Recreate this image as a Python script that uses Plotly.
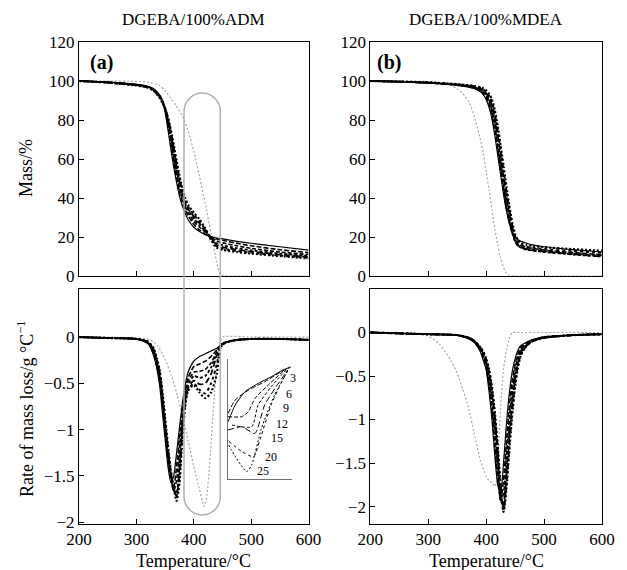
import plotly.graph_objects as go

SERIES = ["3", "6", "9", "12", "15", "20", "25"]
TICKS_X = [200, 300, 400, 500, 600]
TICKS_MASS = [0, 20, 40, 60, 80, 100, 120]
TICKS_RATE = [-2, -1.5, -1, -0.5, 0]

# ---------------- (a) DGEBA/100%ADM : mass ----------------
T_A_MASS = [200, 250, 300, 320, 330, 340, 345, 350, 355, 360, 365, 370, 375, 380, 385, 390, 400, 410, 420, 430, 440, 450, 475, 500, 550, 600]
A_MASS_3 = [100, 99.4, 98.3, 97.3, 96, 93, 90, 84, 75, 65, 56, 48, 41, 36, 32, 29, 25, 22.8, 21.2, 20.2, 19.5, 19, 17.8, 16.8, 15, 13.3]
A_MASS_6 = [100, 99.4, 98.2, 97.2, 95.8, 92.8, 90.2, 85.5, 77.5, 68, 58.5, 50, 43, 38, 34, 31, 26.5, 23.5, 21.5, 20, 19, 18.3, 16.8, 15.5, 13.5, 12]
A_MASS_9 = [100, 99.3, 98.1, 97, 95.6, 92.5, 90, 86, 79, 70, 61, 52.5, 45, 39.5, 35.5, 32.5, 28, 25, 22.5, 20, 18, 17, 15.5, 14.2, 12.3, 11]
A_MASS_12 = [100, 99.3, 98, 97, 95.5, 92.3, 89.8, 86, 80, 72, 63, 54.5, 47, 41, 37, 34, 29.5, 26, 23, 19.5, 16.8, 15.8, 14.3, 13.2, 11.5, 10.3]
A_MASS_15 = [100, 99.2, 97.9, 96.8, 95.3, 92, 89.5, 86, 80.5, 73, 64.5, 56, 48.5, 42, 37.5, 34.5, 30.5, 27, 23.5, 19.5, 16, 14.8, 13.5, 12.5, 11, 9.8]
A_MASS_20 = [100, 99.2, 97.8, 96.7, 95.2, 91.8, 89.3, 86, 81, 74, 66, 57.5, 50, 43.5, 38.5, 35.5, 31.5, 28, 24, 19, 15.2, 14, 12.8, 12, 10.5, 9.3]
A_MASS_25 = [100, 99.2, 97.7, 96.6, 95, 91.5, 89, 85.8, 81.2, 75, 67.5, 59, 51.5, 45, 40, 36.5, 32.5, 29, 24.5, 18.5, 14.5, 13.4, 12.3, 11.5, 10.2, 9]
T_A_REF_MASS = [200, 250, 300, 320, 340, 350, 360, 370, 380, 390, 400, 410, 420, 430, 440, 445, 450, 500, 550, 600]
A_REF_MASS = [100, 100, 99.8, 99.4, 97.8, 95, 91, 87, 82, 74.5, 64, 51, 37, 22, 7, 1.5, 0.3, 0, 0, 0]

# ---------------- (a) rate of mass loss ----------------
T_A_RATE = [200, 250, 300, 320, 330, 340, 345, 350, 355, 360, 365, 370, 375, 380, 385, 390, 400, 410, 420, 430, 440, 445, 450, 460, 475, 500, 550, 600]
A_RATE_3 = [0, -0.01, -0.02, -0.07, -0.2, -0.5, -0.8, -1.1, -1.4, -1.57, -1.5, -1.25, -0.98, -0.72, -0.52, -0.38, -0.26, -0.21, -0.18, -0.15, -0.12, -0.1, -0.08, -0.05, -0.03, -0.02, -0.02, -0.03]
A_RATE_6 = [0, -0.01, -0.02, -0.06, -0.18, -0.45, -0.72, -1.02, -1.32, -1.55, -1.62, -1.4, -1.08, -0.8, -0.58, -0.44, -0.32, -0.29, -0.26, -0.21, -0.14, -0.1, -0.07, -0.05, -0.03, -0.02, -0.02, -0.03]
A_RATE_9 = [0, -0.01, -0.02, -0.06, -0.16, -0.42, -0.68, -0.98, -1.28, -1.52, -1.66, -1.55, -1.2, -0.88, -0.62, -0.48, -0.38, -0.37, -0.35, -0.28, -0.16, -0.1, -0.07, -0.05, -0.03, -0.02, -0.02, -0.03]
A_RATE_12 = [0, -0.01, -0.02, -0.06, -0.15, -0.4, -0.65, -0.95, -1.25, -1.5, -1.66, -1.68, -1.32, -0.94, -0.66, -0.52, -0.42, -0.44, -0.42, -0.33, -0.17, -0.1, -0.07, -0.05, -0.03, -0.02, -0.02, -0.03]
A_RATE_15 = [0, -0.01, -0.02, -0.05, -0.14, -0.38, -0.62, -0.92, -1.22, -1.48, -1.66, -1.72, -1.42, -1.0, -0.7, -0.55, -0.47, -0.51, -0.5, -0.4, -0.2, -0.11, -0.07, -0.05, -0.03, -0.02, -0.02, -0.03]
A_RATE_20 = [0, -0.01, -0.02, -0.05, -0.13, -0.36, -0.6, -0.9, -1.2, -1.46, -1.64, -1.7, -1.5, -1.05, -0.72, -0.57, -0.5, -0.57, -0.61, -0.5, -0.3, -0.14, -0.08, -0.05, -0.03, -0.02, -0.02, -0.03]
A_RATE_25 = [0, -0.01, -0.02, -0.05, -0.12, -0.34, -0.57, -0.87, -1.17, -1.44, -1.63, -1.77, -1.58, -1.1, -0.75, -0.58, -0.52, -0.6, -0.66, -0.6, -0.4, -0.15, -0.08, -0.05, -0.03, -0.02, -0.02, -0.03]
T_A_REF_RATE = [200, 250, 300, 320, 330, 340, 350, 360, 370, 380, 390, 400, 410, 415, 418, 422, 426, 430, 435, 440, 445, 450, 500, 550, 600]
A_REF_RATE = [0, 0, -0.01, -0.02, -0.05, -0.12, -0.24, -0.4, -0.6, -0.85, -1.12, -1.4, -1.65, -1.77, -1.83, -1.75, -1.5, -1.15, -0.7, -0.3, -0.08, 0, 0, 0, 0]

# ---------------- (b) DGEBA/100%MDEA : mass ----------------
T_B_MASS = [200, 250, 300, 350, 370, 380, 390, 395, 400, 405, 410, 415, 420, 425, 430, 435, 440, 445, 450, 455, 460, 470, 480, 500, 550, 600]
B_MASS_3 = [100, 99.6, 99, 97.8, 96.8, 96, 94.5, 93, 90.5, 86.5, 80.5, 72, 62, 52, 42, 33.5, 27, 22.5, 19.8, 18.6, 17.8, 16.8, 16, 15, 13.5, 12.3]
B_MASS_6 = [100, 99.6, 99, 97.9, 97, 96.3, 95, 93.8, 91.5, 88, 82.5, 74.5, 64.5, 54, 44, 35, 27.5, 22, 18.5, 16.8, 15.8, 14.8, 14.2, 13.3, 12, 11]
B_MASS_9 = [100, 99.6, 99.1, 98, 97.2, 96.6, 95.5, 94.4, 92.5, 89.5, 84.5, 77, 67, 56.5, 46, 36.5, 28.5, 22, 17.5, 15.5, 14.8, 14, 13.5, 12.8, 11.5, 10.5]
B_MASS_12 = [100, 99.6, 99.1, 98.1, 97.3, 96.8, 95.8, 94.8, 93.2, 90.5, 86, 79, 69.5, 59, 48.5, 38.5, 30, 23, 18, 15.5, 14.5, 13.5, 13, 12.3, 11, 10]
B_MASS_15 = [100, 99.7, 99.2, 98.2, 97.5, 97, 96.2, 95.3, 93.8, 91.5, 87.5, 81, 72, 61.5, 51, 41, 32, 24.5, 19, 16, 14.8, 13.8, 13.2, 12.5, 11.2, 10]
B_MASS_20 = [100, 99.7, 99.2, 98.3, 97.6, 97.2, 96.5, 95.7, 94.5, 92.5, 89, 83, 74.5, 64.5, 54, 43.5, 34, 26, 20.5, 17.5, 16, 15, 14.5, 13.8, 12.8, 12]
B_MASS_25 = [100, 99.7, 99.3, 98.4, 97.8, 97.4, 96.8, 96.2, 95.2, 93.5, 90.5, 85, 77, 67, 56.5, 46, 36, 27.5, 21.5, 18.5, 17, 16, 15.5, 14.8, 13.8, 13]
T_B_REF_MASS = [200, 250, 300, 320, 340, 350, 360, 370, 380, 390, 395, 400, 405, 410, 415, 420, 425, 430, 435, 440, 450, 500, 550, 600]
B_REF_MASS = [100, 100, 99.7, 99.2, 97.8, 96, 93.5, 89.5, 81.5, 70, 63, 53.5, 44, 34, 24, 16, 9, 4.5, 1.5, 0.3, 0, 0, 0, 0]

# ---------------- (b) rate of mass loss ----------------
T_B_RATE = [200, 250, 300, 350, 370, 380, 390, 395, 400, 405, 410, 415, 420, 425, 430, 435, 440, 445, 450, 455, 460, 470, 480, 500, 550, 600]
B_RATE_3 = [0, -0.01, -0.02, -0.03, -0.07, -0.12, -0.22, -0.32, -0.43, -0.68, -1.0, -1.42, -1.75, -1.84, -1.5, -1.05, -0.7, -0.45, -0.3, -0.2, -0.15, -0.11, -0.08, -0.05, -0.03, -0.02]
B_RATE_6 = [0, -0.01, -0.02, -0.03, -0.07, -0.11, -0.2, -0.29, -0.4, -0.6, -0.9, -1.3, -1.68, -1.92, -1.7, -1.25, -0.85, -0.55, -0.36, -0.24, -0.17, -0.12, -0.09, -0.05, -0.03, -0.02]
B_RATE_9 = [0, -0.01, -0.02, -0.03, -0.07, -0.11, -0.19, -0.27, -0.37, -0.55, -0.82, -1.18, -1.58, -1.95, -1.85, -1.4, -0.98, -0.65, -0.42, -0.28, -0.19, -0.13, -0.09, -0.06, -0.03, -0.02]
B_RATE_12 = [0, -0.01, -0.02, -0.03, -0.06, -0.1, -0.18, -0.25, -0.35, -0.5, -0.75, -1.08, -1.48, -1.9, -1.98, -1.55, -1.1, -0.75, -0.48, -0.31, -0.21, -0.14, -0.1, -0.06, -0.03, -0.02]
B_RATE_15 = [0, -0.01, -0.02, -0.03, -0.06, -0.1, -0.18, -0.24, -0.33, -0.47, -0.7, -1.0, -1.4, -1.85, -2.02, -1.65, -1.2, -0.82, -0.53, -0.34, -0.23, -0.15, -0.1, -0.06, -0.03, -0.02]
B_RATE_20 = [0, -0.01, -0.02, -0.03, -0.06, -0.1, -0.17, -0.23, -0.31, -0.44, -0.65, -0.95, -1.35, -1.8, -2.05, -1.75, -1.3, -0.9, -0.58, -0.37, -0.25, -0.15, -0.1, -0.06, -0.03, -0.02]
B_RATE_25 = [0, -0.01, -0.02, -0.03, -0.06, -0.1, -0.17, -0.22, -0.3, -0.42, -0.62, -0.92, -1.3, -1.75, -2.06, -1.8, -1.35, -0.95, -0.62, -0.4, -0.26, -0.15, -0.1, -0.06, -0.03, -0.02]
T_B_REF_RATE = [200, 250, 280, 300, 320, 340, 350, 360, 370, 380, 390, 400, 405, 410, 415, 418, 420, 425, 430, 435, 440, 445, 450, 500, 550, 600]
B_REF_RATE = [0, 0, -0.01, -0.04, -0.14, -0.33, -0.47, -0.66, -0.88, -1.17, -1.47, -1.65, -1.7, -1.73, -1.77, -1.7, -1.5, -0.85, -0.42, -0.2, -0.07, 0, 0, 0, 0, 0]

# ---------------- inset of (a): shoulder region ----------------
INSET_X_3 = [390, 396.7, 406, 418.3, 430.6, 441.4, 449.1]
INSET_Y_3 = [-0.466, -0.368, -0.29, -0.242, -0.203, -0.164, -0.145]
INSET_X_6 = [390, 396.7, 409.1, 424.4, 439.8, 447.5]
INSET_Y_6 = [-0.417, -0.339, -0.281, -0.232, -0.174, -0.15]
INSET_X_9 = [390, 402.9, 409.1, 415.2, 427.6, 442.9]
INSET_Y_9 = [-0.436, -0.436, -0.407, -0.33, -0.252, -0.164]
INSET_X_12 = [393.7, 412.2, 418.3, 430.6, 446]
INSET_Y_12 = [-0.485, -0.495, -0.368, -0.261, -0.154]
INSET_X_15 = [390, 402.9, 415.2, 424.4, 435.2, 446]
INSET_Y_15 = [-0.514, -0.495, -0.534, -0.368, -0.261, -0.164]
INSET_X_20 = [390.6, 402.9, 414, 420, 431, 446]
INSET_Y_20 = [-0.58, -0.64, -0.67, -0.57, -0.36, -0.164]
INSET_X_25 = [390.6, 399.9, 407.5, 412.2, 421.4, 433.7, 447.5]
INSET_Y_25 = [-0.602, -0.699, -0.757, -0.718, -0.504, -0.31, -0.154]

A_MASS = [A_MASS_3, A_MASS_6, A_MASS_9, A_MASS_12, A_MASS_15, A_MASS_20, A_MASS_25]
A_RATE = [A_RATE_3, A_RATE_6, A_RATE_9, A_RATE_12, A_RATE_15, A_RATE_20, A_RATE_25]
B_MASS = [B_MASS_3, B_MASS_6, B_MASS_9, B_MASS_12, B_MASS_15, B_MASS_20, B_MASS_25]
B_RATE = [B_RATE_3, B_RATE_6, B_RATE_9, B_RATE_12, B_RATE_15, B_RATE_20, B_RATE_25]
INSET_X = [INSET_X_3, INSET_X_6, INSET_X_9, INSET_X_12, INSET_X_15, INSET_X_20, INSET_X_25]
INSET_Y = [INSET_Y_3, INSET_Y_6, INSET_Y_9, INSET_Y_12, INSET_Y_15, INSET_Y_20, INSET_Y_25]

STYLES = [
    dict(dash="solid", width=1.2),
    dict(dash="5px,2px", width=1.6),
    dict(dash="4px,2px", width=1.6),
    dict(dash="3px,2px", width=1.8),
    dict(dash="6px,3px", width=1.7),
    dict(dash="3px,3px", width=2.0),
    dict(dash="2px,2px", width=2.2),
]
REF_STYLE = dict(color="#a6a6a6", dash="2px,2px", width=1.2)
FONT = "Liberation Serif, Times New Roman, serif"

fig = go.Figure()

panels = [
    ("x", "y", T_A_MASS, A_MASS, T_A_REF_MASS, A_REF_MASS),
    ("x2", "y2", T_B_MASS, B_MASS, T_B_REF_MASS, B_REF_MASS),
    ("x3", "y3", T_A_RATE, A_RATE, T_A_REF_RATE, A_REF_RATE),
    ("x4", "y4", T_B_RATE, B_RATE, T_B_REF_RATE, B_REF_RATE),
]
for xa, ya, tx, ys, rtx, rty in panels:
    fig.add_trace(go.Scatter(x=rtx, y=rty, xaxis=xa, yaxis=ya, mode="lines",
                             line=dict(shape="spline", smoothing=0.6, **REF_STYLE),
                             showlegend=False, hoverinfo="skip"))
    for name, yv, st in zip(SERIES, ys, STYLES):
        fig.add_trace(go.Scatter(x=tx, y=yv, xaxis=xa, yaxis=ya, mode="lines", name=name,
                                 line=dict(color="black", shape="spline", smoothing=0.6, **st),
                                 showlegend=False))

for name, xv, yv, st in zip(SERIES, INSET_X, INSET_Y, STYLES):
    fig.add_trace(go.Scatter(x=xv, y=yv, xaxis="x5", yaxis="y5", mode="lines", name=name,
                             line=dict(color="black", shape="spline", smoothing=0.6,
                                       dash=st["dash"], width=1.0),
                             showlegend=False))

XL = [0.0, 0.439]
XR = [0.557, 1.0]
YT = [0.5145, 1.0]
YB = [0.0, 0.4876]

def ax(domain, anchor, rng, tickvals, showlabels=True):
    return dict(domain=domain, anchor=anchor, range=rng, tickvals=tickvals,
                showticklabels=showlabels, showline=True, linecolor="black", linewidth=1,
                mirror=True, ticks="inside", ticklen=5, tickcolor="black",
                showgrid=False, zeroline=False,
                tickfont=dict(family=FONT, size=17, color="black"))

layout = dict(
    width=627, height=570,
    margin=dict(l=79, r=15, t=42, b=46),
    paper_bgcolor="white", plot_bgcolor="white",
    font=dict(family=FONT, color="black"),
    xaxis=ax(XL, "y", [200, 600], TICKS_X, False),
    yaxis=ax(YT, "x", [0, 120], TICKS_MASS),
    xaxis2=ax(XR, "y2", [200, 600], TICKS_X, False),
    yaxis2=ax(YT, "x2", [0, 120], TICKS_MASS),
    xaxis3=ax(XL, "y3", [200, 600], TICKS_X),
    yaxis3=ax(YB, "x3", [-2.02, 0.52], TICKS_RATE),
    xaxis4=ax(XR, "y4", [200, 600], TICKS_X),
    yaxis4=ax(YB, "x4", [-2.2, 0.5], TICKS_RATE),
    xaxis5=dict(domain=[0.285, 0.407], anchor="y5", range=[390, 450], showline=True,
                linecolor="#707070", linewidth=1.2, showticklabels=False, ticks="",
                showgrid=False, zeroline=False),
    yaxis5=dict(domain=[0.0934, 0.342], anchor="x5", range=[-0.8, -0.1], showline=True,
                linecolor="#707070", linewidth=1.2, showticklabels=False, ticks="",
                showgrid=False, zeroline=False),
)
fig.update_layout(**layout)

ann = [
    dict(text="DGEBA/100%ADM", x=0.2195, y=1.046, size=17),
    dict(text="DGEBA/100%MDEA", x=0.7785, y=1.046, size=17),
    dict(text="Temperature/°C", x=0.2195, y=-0.077, size=18),
    dict(text="Temperature/°C", x=0.7785, y=-0.077, size=18),
    dict(text="<b>(a)</b>", x=0.043, y=0.9585, size=20),
    dict(text="<b>(b)</b>", x=0.592, y=0.9585, size=20),
]
for a in ann:
    fig.add_annotation(text=a["text"], x=a["x"], y=a["y"], xref="paper", yref="paper",
                       showarrow=False, xanchor="center", yanchor="middle",
                       font=dict(family=FONT, size=a["size"], color="black"))
fig.add_annotation(text="Mass/%", x=-0.1013, y=0.7386, xref="paper", yref="paper",
                   showarrow=False, textangle=-90, xanchor="center", yanchor="middle",
                   font=dict(family=FONT, size=18, color="black"))
fig.add_annotation(text="Rate of mass loss/g °C<sup>−1</sup>", x=-0.1013, y=0.2386,
                   xref="paper", yref="paper", showarrow=False, textangle=-90,
                   xanchor="center", yanchor="middle",
                   font=dict(family=FONT, size=18, color="black"))

INSET_LABEL_POS = [(0.4084, 0.3023), (0.4021, 0.2691), (0.3959, 0.2407), (0.3884, 0.2075),
                   (0.3790, 0.1790), (0.3664, 0.1396), (0.3522, 0.1100)]
for name, (lx, ly) in zip(SERIES, INSET_LABEL_POS):
    fig.add_annotation(text=name, x=lx, y=ly, xref="paper", yref="paper", showarrow=False,
                       xanchor="center", yanchor="middle",
                       font=dict(family=FONT, size=12, color="black"))

fig.add_shape(type="path", xref="paper", yref="paper",
              path=("M 0.2008,0.8558 C 0.2008,0.877 0.2163,0.8942 0.2355,0.8942 "
                    "C 0.2547,0.8942 0.2702,0.877 0.2702,0.8558 L 0.2702,0.0571 "
                    "C 0.2702,0.0359 0.2547,0.0187 0.2355,0.0187 "
                    "C 0.2163,0.0187 0.2008,0.0359 0.2008,0.0571 Z"),
              line=dict(color="#b0b0b0", width=1.5))

fig.write_html("out.html", config={"displayModeBar": False},
               post_script="document.body.style.margin='0';document.body.style.overflow='hidden';")
